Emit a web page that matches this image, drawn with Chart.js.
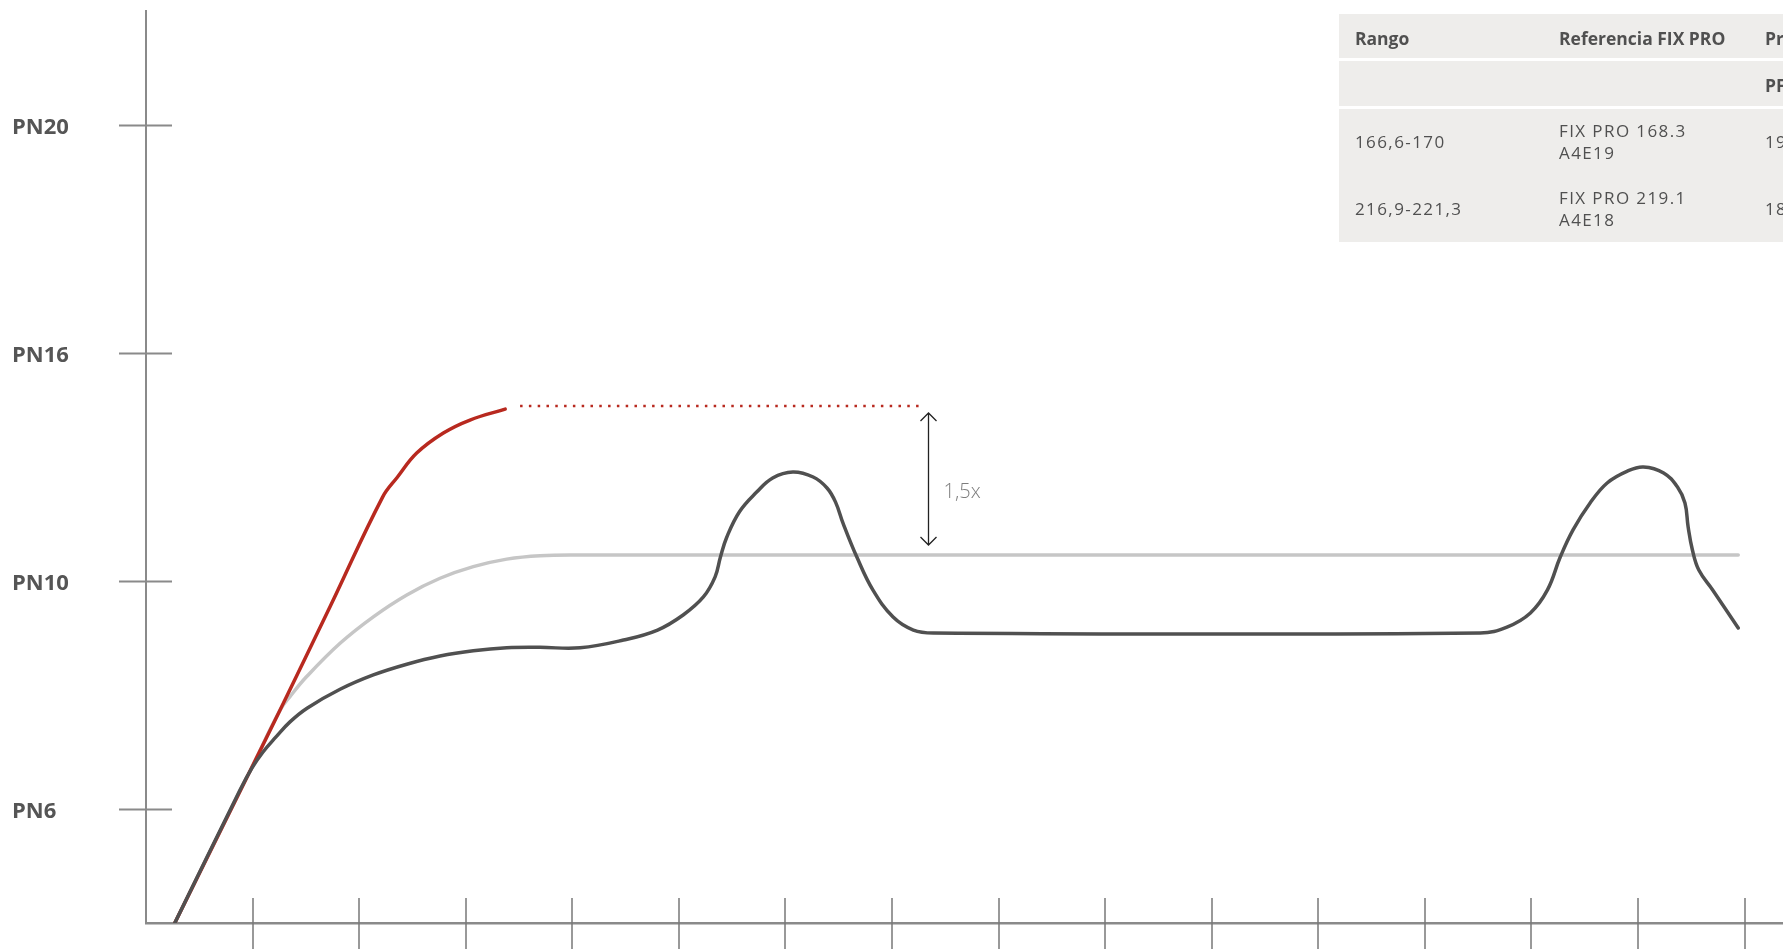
<!DOCTYPE html>
<html>
<head>
<meta charset="utf-8">
<script src="https://cdn.jsdelivr.net/npm/chart.js@4/dist/chart.umd.min.js"></script>
<style>
  html, body { margin: 0; padding: 0; background: #fff; overflow: hidden; }
  #wrap { position: relative; width: 1783px; height: 949px; }
  #tbl { position: absolute; left: 1339px; top: 14px; width: 620px; font-family: 'Open Sans', sans-serif; color: #505050; }
  #tbl .row { display: flex; align-items: center; background: #eeedeb; margin-bottom: 3px; }
  #tbl .cell { padding-left: 16px; box-sizing: border-box; }
  #tbl .c1 { width: 204px; } #tbl .c2 { width: 206px; } #tbl .c3 { width: 210px; }
  #tbl .head { height: 44px; font-weight: 700; font-size: 17.5px; padding-top: 3px; box-sizing: border-box; }
  #tbl .sub { height: 45px; font-weight: 700; font-size: 17.5px; padding-top: 2px; box-sizing: border-box; }
  #tbl .body { height: 133px; flex-direction: column; align-items: stretch; margin: 0; }
  #tbl .line { display: flex; align-items: center; height: 66.5px; font-size: 17px; letter-spacing: 1.4px; line-height: 22px; }
</style>
</head>
<body>
<div id="wrap">
  <canvas id="c"></canvas>
  <div id="tbl">
    <div class="row head"><div class="cell c1">Rango</div><div class="cell c2">Referencia FIX PRO</div><div class="cell c3">Presión</div></div>
    <div class="row sub"><div class="cell c1"></div><div class="cell c2"></div><div class="cell c3">PFA (bar)</div></div>
    <div class="row body">
      <div class="line"><div class="cell c1">166,6-170</div><div class="cell c2">FIX PRO 168.3<br>A4E19</div><div class="cell c3">19</div></div>
      <div class="line"><div class="cell c1">216,9-221,3</div><div class="cell c2">FIX PRO 219.1<br>A4E18</div><div class="cell c3">18</div></div>
    </div>
  </div>
</div>
<script>
// y levels: PN6 = 1, PN10 = 2, PN16 = 3, PN20 = 4
const yTickValues = [1, 2, 3, 4];
const yTickLabels = ['PN6', 'PN10', 'PN16', 'PN20'];
const xTickValues = [1, 2, 3, 4, 5, 6, 7, 8, 9, 10, 11, 12, 13, 14, 15];

// curves as [x, y] pairs
const darkCurve = [
  [0.27, 0.5], [0.882, 1.083], [0.995, 1.18], [1.098, 1.25], [1.22, 1.316], [1.351, 1.382],
  [1.511, 1.442], [1.821, 1.525], [2.133, 1.588], [2.447, 1.635], [2.759, 1.671], [3.071, 1.694],
  [3.385, 1.707], [3.697, 1.709], [4.073, 1.707],
  [4.48, 1.741], [4.8, 1.785], [5.04, 1.851], [5.23, 1.93], [5.34, 2.018],
  [5.39, 2.105], [5.45, 2.193], [5.57, 2.305], [5.73, 2.39], [5.88, 2.452],
  [6.07, 2.478], [6.26, 2.456], [6.39, 2.408], [6.47, 2.346], [6.54, 2.254],
  [6.67, 2.105], [6.82, 1.961], [7.01, 1.842], [7.2, 1.785], [7.39, 1.772],
  [12.52, 1.772], [12.77, 1.798], [12.99, 1.86], [13.15, 1.961], [13.27, 2.105],
  [13.39, 2.224], [13.55, 2.342], [13.71, 2.43], [13.9, 2.482], [14.05, 2.5],
  [14.24, 2.474], [14.37, 2.412], [14.44, 2.342], [14.47, 2.237], [14.51, 2.136],
  [14.57, 2.048], [14.7, 1.961], [14.94, 1.794]
];
const grayCurve = [
  [0.27, 0.5], [0.99, 1.18], [1.258, 1.434], [1.351, 1.493], [1.508, 1.581],
  [1.821, 1.727], [2.133, 1.843], [2.447, 1.939], [2.759, 2.012], [3.071, 2.063],
  [3.385, 2.096], [3.697, 2.111], [4.073, 2.114], [14.94, 2.114]
];
const redCurve = [
  [0.27, 0.5], [0.99, 1.18], [1.258, 1.434], [1.73, 1.89], [2.22, 2.368],
  [2.36, 2.456], [2.54, 2.561], [2.79, 2.649], [3.04, 2.706], [3.37, 2.754]
];
const redDotted = [[3.51, 2.768], [7.25, 2.768]];

// "1,5x" marker
const arrowX = 7.34;
const arrowTop = 2.737;
const arrowBottom = 2.158;
const arrowLabel = '1,5x';
const arrowLabelY = 2.39;

const pts = a => a.map(p => ({ x: p[0], y: p[1] }));

const AXIS = '#8a8a8a';

const crossTicks = {
  id: 'crossTicks',
  beforeDatasetsDraw(chart) {
    const { ctx, chartArea: a, scales: { x, y } } = chart;
    ctx.save();
    ctx.strokeStyle = AXIS;
    ctx.lineWidth = 2;
    yTickValues.forEach(v => {
      const py = Math.round(y.getPixelForValue(v)) + 0.5;
      ctx.beginPath(); ctx.moveTo(a.left - 27, py); ctx.lineTo(a.left + 26, py); ctx.stroke();
    });
    ctx.strokeStyle = '#777';
    ctx.lineWidth = 1.5;
    xTickValues.forEach(v => {
      const px = Math.round(x.getPixelForValue(v));
      ctx.beginPath(); ctx.moveTo(px, a.bottom - 25); ctx.lineTo(px, chart.height); ctx.stroke();
    });
    ctx.restore();
  },
  afterDatasetsDraw(chart) {
    const { ctx, scales: { x, y } } = chart;
    const px = Math.round(x.getPixelForValue(arrowX)) + 0.5;
    const t = y.getPixelForValue(arrowTop), b = y.getPixelForValue(arrowBottom);
    ctx.save();
    ctx.strokeStyle = '#222';
    ctx.lineWidth = 1.3;
    ctx.beginPath();
    ctx.moveTo(px, t); ctx.lineTo(px, b);
    ctx.moveTo(px - 8, t + 8); ctx.lineTo(px, t); ctx.lineTo(px + 8, t + 8);
    ctx.moveTo(px - 8, b - 8); ctx.lineTo(px, b); ctx.lineTo(px + 8, b - 8);
    ctx.stroke();
    ctx.fillStyle = '#7d7d7d';
    ctx.font = "300 20px 'Open Sans', sans-serif";
    ctx.textBaseline = 'middle';
    ctx.fillText(arrowLabel, px + 15, y.getPixelForValue(arrowLabelY));
    ctx.restore();
  }
};

const line = (data, color, extra = {}) => Object.assign({
  data: pts(data), borderColor: color, borderWidth: 3.5, pointRadius: 0,
  showLine: true, tension: 0.4, fill: false, borderCapStyle: 'round'
}, extra);

new Chart(document.getElementById('c'), {
  type: 'scatter',
  data: {
    datasets: [
      line(darkCurve, '#505050'),
      line(redCurve, '#b8291f'),
      line(grayCurve, '#c6c6c6'),
      line(redDotted, '#b8291f', { tension: 0, borderWidth: 2.5, borderCapStyle: 'butt', borderDash: [2.5, 6.3] }),
    ],
  },
  options: {
    responsive: true,
    maintainAspectRatio: false,
    animation: false,
    layout: { padding: { top: 11, bottom: 26, left: 12, right: 0 } },
    plugins: { legend: { display: false }, tooltip: { enabled: false } },
    scales: {
      x: {
        type: 'linear', min: 0, max: 15.36,
        grid: { display: false },
        ticks: { display: false },
        border: { display: true, color: AXIS, width: 2.5 },
        afterFit: s => { s.height = 0; s.paddingLeft = 0; s.paddingRight = 0; },
      },
      y: {
        type: 'linear', min: 0.5, max: 4.5,
        grid: { display: false },
        border: { display: true, color: AXIS, width: 2 },
        afterBuildTicks: s => { s.ticks = yTickValues.map(v => ({ value: v })); },
        afterFit: s => { s.width = 134; s.paddingTop = 0; s.paddingBottom = 0; },
        ticks: {
          crossAlign: 'far',
          labelOffset: 3,
          color: '#555',
          font: { family: "'Open Sans', sans-serif", size: 22, weight: '700' },
          callback: v => yTickLabels[yTickValues.indexOf(v)] || '',
        },
      },
    },
  },
  plugins: [crossTicks],
});
</script>
</body>
</html>
